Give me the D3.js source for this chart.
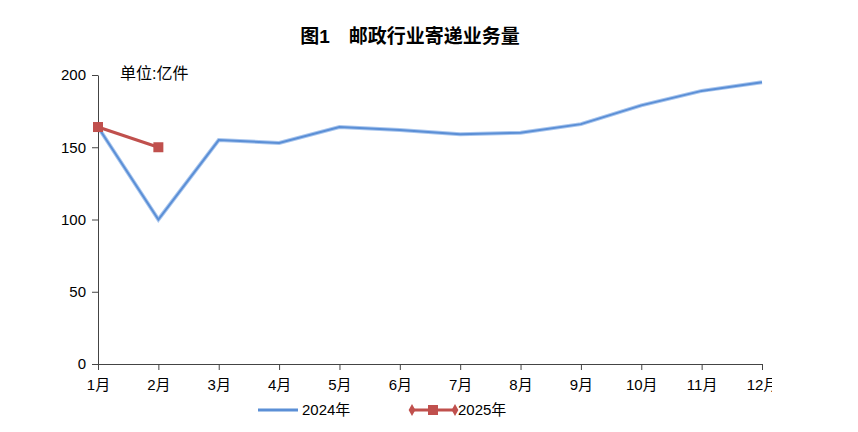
<!DOCTYPE html>
<html><head><meta charset="utf-8">
<script src="https://cdn.jsdelivr.net/npm/d3@7"></script>
<style>body{margin:0;background:#fff}text{font-family:"Liberation Sans","Noto Sans CJK SC",sans-serif}</style>
</head><body><svg id="c" width="858" height="432"></svg>
<script>
var months = ['1月','2月','3月','4月','5月','6月','7月','8月','9月','10月','11月','12月']
var y2024 = [164, 100, 155, 153, 164, 162, 159, 160, 166, 179, 189, 195]
var y2025 = [164, 150]
var yTicks = [0, 50, 100, 150, 200]

var svg = d3.select('#c')
var x = d3.scalePoint().domain(months).range([98, 762])
var y = d3.scaleLinear().domain([0, 200]).range([364, 75])

svg.append('text').attr('x', 410).attr('y', 43).attr('text-anchor', 'middle')
    .style('font-size', '19px').style('font-weight', 'bold').text('图1　邮政行业寄递业务量')
svg.append('text').attr('x', 120).attr('y', 79).style('font-size', '16px').text('单位:亿件')

svg.append('clipPath').attr('id', 'cl').append('rect').attr('width', 772).attr('height', 432)
var xg = svg.append('g').attr('transform', 'translate(0,364)').attr('clip-path', 'url(#cl)')
    .call(d3.axisBottom(x).tickSize(6).tickSizeOuter(0))
xg.selectAll('text').style('font-size', '15px').attr('dy', '1.1em')
var yg = svg.append('g').attr('transform', 'translate(98,0)')
    .call(d3.axisLeft(y).tickValues(yTicks).tickSize(6).tickSizeOuter(0))
yg.selectAll('text').style('font-size', '15px').attr('x', -12)
svg.selectAll('.domain,.tick line').attr('stroke', '#444')

var line = d3.line().x((d, i) => x(months[i])).y(d => y(d))
svg.append('path').datum(y2024).attr('d', line).attr('fill', 'none')
    .attr('stroke', '#a9c6ee').attr('stroke-width', 4)
svg.append('path').datum(y2024).attr('d', line).attr('fill', 'none')
    .attr('stroke', '#5b8fd6').attr('stroke-width', 2)
svg.append('path').datum(y2025).attr('d', line).attr('fill', 'none')
    .attr('stroke', '#c0504d').attr('stroke-width', 3)
svg.selectAll('.m').data(y2025).enter().append('rect')
    .attr('x', (d, i) => x(months[i]) - 5).attr('y', d => y(d) - 5)
    .attr('width', 10).attr('height', 10).attr('fill', '#c0504d')

// legend
var lg = svg.append('g').attr('transform', 'translate(0,410)')
lg.append('line').attr('x1', 258).attr('x2', 298).attr('stroke', '#5b8fd6').attr('stroke-width', 3)
lg.append('text').attr('x', 302).attr('y', 5).style('font-size', '15px').text('2024年')
lg.append('line').attr('x1', 412).attr('x2', 455).attr('stroke', '#c0504d').attr('stroke-width', 3)
;[412, 455].forEach(function (cx) {
    lg.append('path').attr('d', d3.symbol(d3.symbolDiamond, 40)()).attr('transform', 'translate(' + cx + ',0)').attr('fill', '#c0504d')
})
lg.append('rect').attr('x', 428).attr('y', -5).attr('width', 10).attr('height', 10).attr('fill', '#c0504d')
lg.append('text').attr('x', 458).attr('y', 5).style('font-size', '15px').text('2025年')
</script></body></html>
